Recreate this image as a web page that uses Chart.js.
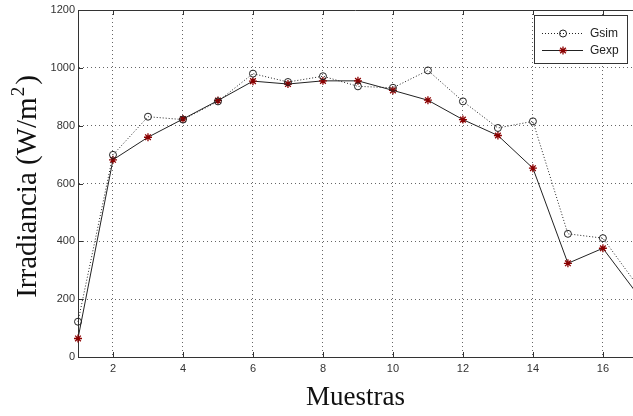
<!DOCTYPE html>
<html>
<head>
<meta charset="utf-8">
<script src="https://cdn.jsdelivr.net/npm/chart.js@4.4.1/dist/chart.umd.min.js"></script>
<style>
  html, body { margin: 0; padding: 0; background: #fff; overflow: hidden; }
  #wrap { width: 633px; height: 416px; }
</style>
</head>
<body>
<div id="wrap"><canvas id="c" width="633" height="416"></canvas></div>
<script>
// Sample index (Muestras)
const samples = [1, 2, 3, 4, 5, 6, 7, 8, 9, 10, 11, 12, 13, 14, 15, 16, 17];
// Simulated irradiance (W/m²)
const gsim = [122, 699, 831, 821, 884, 980, 951, 971, 936, 931, 991, 884, 792, 815, 426, 411, 245];
// Measured irradiance (W/m²)
const gexp = [64, 682, 760, 823, 887, 954, 944, 955, 955, 922, 888, 821, 766, 653, 324, 376, 215];
// Axis tick values
const xTickValues = [2, 4, 6, 8, 10, 12, 14, 16];
const yTickValues = [0, 200, 400, 600, 800, 1000, 1200];

const AXIS = '#333';
const TICK_FONT = { family: 'Liberation Sans, Arial, sans-serif', size: 11 };
const SERIF = '"Liberation Serif", "Times New Roman", serif';

// Frame details: top border, inward tick marks, y title with superscript, boxed legend
const framePlugin = {
  id: 'frame',
  beforeDatasetsDraw(chart) {
    const { ctx, chartArea: a, scales: { x, y } } = chart;
    ctx.save();
    ctx.strokeStyle = AXIS;
    ctx.lineWidth = 1;
    ctx.beginPath();
    ctx.moveTo(a.left, a.top + 0.5);
    ctx.lineTo(a.right, a.top + 0.5);
    xTickValues.forEach(v => {
      const px = Math.round(x.getPixelForValue(v)) + 0.5;
      ctx.moveTo(px, a.bottom); ctx.lineTo(px, a.bottom - 5);
      ctx.moveTo(px, a.top); ctx.lineTo(px, a.top + 5);
    });
    yTickValues.forEach(v => {
      const py = Math.round(y.getPixelForValue(v)) + 0.5;
      ctx.moveTo(a.left, py); ctx.lineTo(a.left + 5, py);
    });
    ctx.stroke();
    ctx.restore();
  },
  afterDraw(chart) {
    const { ctx, chartArea: a } = chart;

    // y axis title: Irradiancia (W/m^2)
    const main = 'Irradiancia (W/m';
    const sup = '2';
    const close = ')';
    ctx.save();
    ctx.fillStyle = '#111';
    ctx.textBaseline = 'alphabetic';
    ctx.font = '29px ' + SERIF;
    const wMain = ctx.measureText(main).width;
    const wClose = ctx.measureText(close).width;
    ctx.font = '19px ' + SERIF;
    const wSup = ctx.measureText(sup).width;
    const total = wMain + 1 + wSup + 2 + wClose;
    ctx.translate(36, (a.top + a.bottom) / 2 + 3);
    ctx.rotate(-Math.PI / 2);
    let cx = -total / 2;
    ctx.font = '29px ' + SERIF;
    ctx.fillText(main, cx, 0);
    cx += wMain + 1;
    ctx.font = '19px ' + SERIF;
    ctx.fillText(sup, cx, -12);
    cx += wSup + 2;
    ctx.font = '29px ' + SERIF;
    ctx.fillText(close, cx, 0);
    ctx.restore();

    // legend box
    const box = { l: 534.5, t: 15.5, r: 627.5, b: 63.5 };
    ctx.save();
    ctx.fillStyle = '#fff';
    ctx.fillRect(box.l, box.t, box.r - box.l, box.b - box.t);
    ctx.strokeStyle = AXIS;
    ctx.lineWidth = 1;
    ctx.strokeRect(box.l, box.t, box.r - box.l, box.b - box.t);
    const rows = [33, 50];
    chart.data.datasets.forEach((ds, i) => {
      const yy = rows[i] + 0.5;
      ctx.save();
      ctx.strokeStyle = ds.borderColor;
      ctx.lineWidth = ds.borderWidth;
      ctx.setLineDash(ds.borderDash || []);
      ctx.beginPath();
      ctx.moveTo(542, yy); ctx.lineTo(583, yy);
      ctx.stroke();
      ctx.restore();
      ctx.save();
      ctx.strokeStyle = ds.pointBorderColor;
      ctx.fillStyle = ds.pointBackgroundColor;
      ctx.lineWidth = ds.pointBorderWidth;
      Chart.helpers.drawPoint(ctx, {
        pointStyle: ds.pointStyle,
        radius: ds.pointRadius,
        borderWidth: ds.pointBorderWidth,
        rotation: 0
      }, 563, yy);
      ctx.restore();
      ctx.fillStyle = '#222';
      ctx.font = '12px "Liberation Sans", Arial, sans-serif';
      ctx.textBaseline = 'middle';
      ctx.textAlign = 'left';
      ctx.fillText(ds.label, 590, yy);
    });
    ctx.restore();
  }
};

const chart = new Chart(document.getElementById('c'), {
  type: 'line',
  data: {
    datasets: [
      {
        label: 'Gsim',
        data: samples.map((s, i) => ({ x: s, y: gsim[i] })),
        borderColor: '#222',
        borderWidth: 1,
        borderDash: [1, 2],
        pointStyle: 'circle',
        pointRadius: 3.5,
        pointBorderColor: '#222',
        pointBackgroundColor: 'rgba(255,255,255,0)',
        pointBorderWidth: 1,
        tension: 0,
        clip: false
      },
      {
        label: 'Gexp',
        data: samples.map((s, i) => ({ x: s, y: gexp[i] })),
        borderColor: '#222',
        borderWidth: 1,
        pointStyle: 'star',
        pointRadius: 4,
        pointBorderColor: '#8b0000',
        pointBackgroundColor: '#8b0000',
        pointBorderWidth: 1.3,
        tension: 0,
        clip: false
      }
    ]
  },
  options: {
    responsive: false,
    animation: false,
    layout: { autoPadding: false, padding: { top: 10, left: 0, right: 0, bottom: 0 } },
    plugins: { legend: { display: false }, tooltip: { enabled: false } },
    scales: {
      x: {
        type: 'linear',
        min: 1,
        max: 16.86,
        afterBuildTicks: s => { s.ticks = xTickValues.map(v => ({ value: v })); },
        afterFit: s => { s.height = 59; s.paddingRight = 0; s.paddingLeft = 0; },
        grid: { color: 'rgba(0,0,0,0.6)', drawTicks: false, lineWidth: 1 },
        border: { color: AXIS, width: 1, dash: [1, 3] },
        ticks: { color: '#333', font: TICK_FONT, padding: 5, maxRotation: 0, callback: v => String(v) },
        title: {
          display: true, text: 'Muestras', color: '#111',
          font: { family: SERIF, size: 27 },
          padding: { top: 0, bottom: 2 }
        }
      },
      y: {
        min: 0,
        max: 1200,
        afterBuildTicks: s => { s.ticks = yTickValues.map(v => ({ value: v })); },
        afterFit: s => { s.width = 78; },
        grid: {
          color: c => (c.tick && (c.tick.value === 0 || c.tick.value === 1200)) ? 'rgba(0,0,0,0)' : 'rgba(0,0,0,0.6)',
          drawTicks: false, lineWidth: 1
        },
        border: { color: AXIS, width: 1, dash: [1, 3] },
        ticks: { color: '#333', font: TICK_FONT, padding: 3, callback: v => String(v) }
      }
    }
  },
  plugins: [framePlugin]
});
</script>
</body>
</html>
